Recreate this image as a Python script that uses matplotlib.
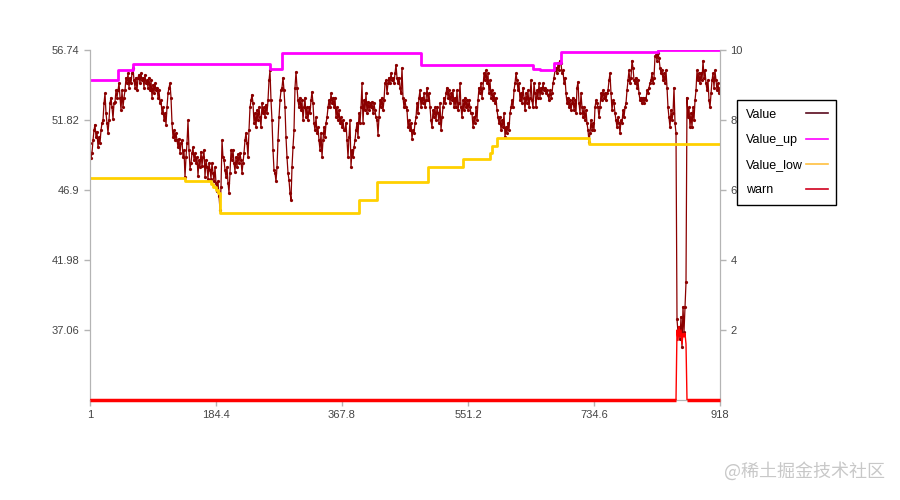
import numpy as np
import matplotlib.pyplot as plt

plt.rcParams['font.family'] = ['Liberation Sans', 'DejaVu Sans']

# Value, one reading per pixel column of the original chart
value = [
    50.2, 49.15, 49.5, 50.4, 51.1, 51.5, 50.6, 51.0, 49.9, 50.6,
    50.2, 51.1, 51.6, 51.8, 53.0, 53.7, 52.3, 51.6, 50.9, 51.8,
    53.0, 53.4, 52.7, 51.9, 53.0, 53.1, 53.9, 53.4, 53.9, 54.4,
    53.4, 52.5, 53.9, 52.7, 53.4, 53.9, 54.8, 54.4, 55.1, 54.1,
    54.8, 54.4, 55.1, 55.5, 54.6, 54.1, 54.8, 53.9, 54.8, 55.0,
    54.4, 55.1, 54.6, 54.8, 54.1, 55.0, 54.4, 54.6, 54.1, 54.8,
    53.9, 54.6, 53.4, 54.3, 53.7, 54.4, 53.9, 54.1, 53.4, 53.9,
    53.0, 53.2, 52.3, 52.7, 51.8, 52.3, 51.5, 52.7, 53.7, 54.1,
    54.4, 53.4, 51.6, 50.6, 51.1, 50.4, 50.9, 50.4, 49.9, 50.5,
    49.5, 50.2, 50.4, 49.2, 49.7, 47.8, 49.2, 50.2, 51.8, 49.7,
    48.4, 48.8, 49.5, 49.9, 49.0, 49.5, 48.8, 49.2, 47.9, 49.0,
    48.5, 49.6, 48.6, 49.2, 49.7, 47.8, 49.0, 48.5, 47.7, 48.8,
    48.3, 47.7, 48.8, 48.1, 47.5, 48.5, 47.4, 46.8,
    47.5, 46.5,
    45.5, 47.1, 50.4, 49.2, 49.0, 48.3, 47.8, 48.5, 47.4, 46.7,
    48.1, 49.7, 49.0, 49.7, 48.8, 48.2, 49.2, 48.5, 49.4, 48.8,
    49.5, 49.0, 48.1, 48.8, 49.5, 50.4, 50.9, 50.2, 49.2, 51.1,
    52.7, 53.2, 53.6, 53.0, 51.6, 52.3, 51.3, 52.5, 51.8, 52.7,
    52.0, 51.3, 53.0, 52.3, 52.7, 52.0, 52.9, 52.3, 53.2, 54.6,
    55.3, 53.2, 51.8, 49.7, 48.3, 48.1, 47.5, 48.5, 50.4, 52.0,
    53.2, 53.9, 54.1, 54.8, 53.9, 52.7, 50.6, 49.2, 48.1, 47.6,
    46.7, 46.2, 48.5, 49.9, 51.1, 54.1, 55.2, 54.1, 53.2, 52.7,
    53.4, 52.5, 53.2, 51.8, 52.7, 53.4, 52.0, 52.7, 51.8, 52.7,
    52.3, 53.2, 53.8, 53.0, 51.6, 51.1, 52.0, 50.9, 51.3, 50.4,
    49.7, 50.9, 49.2, 50.4, 51.3, 50.6, 51.6, 52.0, 52.7, 53.2,
    52.7, 53.7, 53.0, 53.4, 52.7, 53.4, 52.0, 52.7, 51.8, 52.5,
    51.6, 52.0, 51.3, 51.8, 51.1,
    51.1, 51.6, 50.4, 49.2, 50.6,
    51.8, 48.5, 49.7, 49.2, 49.9, 50.4, 51.1, 51.6, 50.6, 52.3,
    51.6, 52.7, 54.4, 51.6, 53.2, 52.5, 53.7, 52.3, 53.1, 52.5,
    53.0, 52.7, 53.1, 52.3, 53.0, 52.5, 52.0, 51.8, 50.8, 52.0,
    53.2, 52.7, 53.4, 52.5, 53.2, 54.4, 54.6, 53.7, 54.4, 54.8,
    54.4, 55.1, 54.6, 54.8, 54.4, 55.1, 55.7, 54.8, 54.4, 54.8,
    54.1, 53.7, 55.5, 53.4, 52.7, 53.2, 52.7, 52.5, 51.3, 51.8,
    51.1, 51.6, 50.5, 51.1, 50.9, 51.6, 52.0, 53.0, 52.3, 53.4,
    53.9, 52.7, 53.4, 53.0, 53.7, 52.7, 53.2, 54.1, 53.2, 53.7,
    52.7, 51.8, 51.3, 52.5, 52.0, 52.7, 51.8, 52.7, 52.3, 51.6,
    53.0, 51.1, 52.0, 52.7, 53.4, 53.0, 53.7, 54.1, 53.4, 53.9,
    53.0, 53.7, 53.2, 53.9, 52.7, 53.4, 52.7, 53.9, 52.5, 53.0,
    54.4, 52.7, 52.0, 53.2, 52.5, 53.4, 52.7, 53.2, 52.5, 53.2,
    52.7, 52.3,
    52.3, 51.3, 52.0, 51.6, 52.7, 51.8, 53.2, 54.1,
    53.7, 54.4, 53.4, 54.1, 55.1, 54.6, 55.3, 54.4, 55.1, 53.7,
    54.6, 53.4, 53.9, 53.2, 53.7, 53.0, 53.4, 52.5, 52.0, 51.6,
    52.0, 51.1, 51.8, 51.3, 52.3, 50.6, 51.3, 50.9, 51.6, 51.1,
    52.3, 52.7, 53.2, 52.7, 53.9, 54.4, 55.1, 54.6, 53.9, 54.4,
    53.2, 53.7, 53.0, 54.1, 53.4, 52.5, 53.7, 53.0, 53.9, 52.7,
    53.4, 54.6, 53.2, 52.7, 54.4, 53.7, 52.7, 53.9, 53.4, 54.4,
    53.4, 54.1, 53.7, 54.4, 53.9, 54.1, 53.7, 53.9, 53.6, 53.2,
    53.9, 53.4, 53.7, 54.4, 54.8, 55.3, 55.5, 55.1, 55.8, 55.3,
    56.0, 55.8, 55.1, 55.3, 54.4, 54.8, 53.7, 53.0, 53.4, 52.7,
    53.2, 52.5, 53.0, 53.4, 52.5, 53.2, 52.3, 54.1, 54.5, 53.0,
    52.3, 53.7, 52.7, 52.0, 52.7, 51.8, 52.5, 51.6, 51.1, 50.3,
    50.9, 51.8, 51.1, 51.6, 51.1, 52.7, 53.2, 53.0, 52.7,
    52.0,
    52.7, 53.7, 53.2, 53.9, 53.4, 53.7, 53.2, 53.7, 53.9, 54.6,
    55.1, 53.7, 52.5, 53.2, 53.0, 52.3, 51.8, 51.3, 52.0, 51.6,
    50.9, 51.8, 51.6, 52.5, 52.0, 52.7, 53.0, 53.9, 54.6, 55.3,
    54.4, 54.8, 56.0, 55.5, 54.6, 54.4, 54.8, 54.1, 54.6, 53.7,
    53.2, 53.4, 53.0, 53.4, 53.0, 53.4, 53.2, 53.9, 53.7, 54.1,
    54.4, 54.6, 55.1, 54.4, 54.8, 56.3, 56.4, 56.0, 56.5, 56.2,
    55.5, 55.1, 55.3, 54.6, 55.1, 54.4, 55.3, 54.1, 52.7, 52.0,
    51.3, 52.5, 51.8, 52.3, 54.1, 51.6, 50.9,
    37.8, 36.9, 37.3, 36.4, 38.0, 35.9, 38.7, 36.9, 38.7, 40.4,
    53.4, 52.0, 52.7, 51.3, 52.3, 51.3, 52.7, 51.8, 53.2, 53.9,
    55.3, 54.6, 55.1, 54.4, 55.1, 54.6, 56.0, 54.8, 55.3, 54.4,
    53.9, 54.6, 53.2, 52.7, 53.7, 54.6, 55.1, 54.1, 55.3, 54.6,
    53.9, 54.4, 53.7, 54.1,
]

# Value_up / Value_low: value changes (x where a new level starts)
up_x = [1, 42, 64, 263, 280, 483, 646, 656, 676, 687, 828, 918]
up_y = [54.63, 55.33, 55.76, 55.40, 56.51, 55.66, 55.40, 55.33, 55.83, 56.60, 56.74, 56.74]

low_x = [1, 139, 177, 180, 184, 187, 190, 393, 419, 493, 544, 583, 586, 593, 727, 918]
low_y = [47.76, 47.55, 47.32, 47.11, 46.9, 46.7, 45.28, 46.19, 47.48, 48.51, 49.06,
         49.5, 49.99, 50.53, 50.13, 50.13]

# warn (right axis): zero except the anomaly
warn_start = 587
warn_vals = [2.0, 1.7, 2.1, 1.8, 2.0, 1.6, 1.9, 1.8, 1.9, 1.6]

left_ticks = [37.06, 41.98, 46.9, 51.82, 56.74]
right_ticks = [2, 4, 6, 8, 10]
x_ticks = [1, 184.4, 367.8, 551.2, 734.6, 918]
x_labels = ['1', '184.4', '367.8', '551.2', '734.6', '918']

x = np.linspace(1, 918, len(value))
warn = np.zeros(len(value))
warn[warn_start:warn_start + len(warn_vals)] = warn_vals
warn_base = np.where(warn == 0, warn, np.nan)

fig = plt.figure(figsize=(9, 5), dpi=100)
ax = fig.add_axes([0.1, 0.2, 0.7, 0.7])
ax2 = ax.twinx()

l1, = ax.plot(x, value, color='#8b0000', lw=0.9, marker='o', ms=1.3, label='Value')
l2, = ax.step(up_x, up_y, where='post', color='#ff00ff', lw=2, label='Value_up')
l3, = ax.step(low_x, low_y, where='post', color='#ffd000', lw=2, label='Value_low')
l4, = ax2.plot(x, warn, color='#ff0000', lw=1.0, label='warn', zorder=3)
# warn baseline sits on the axis, drawn a bit heavier
ax2.plot(x, warn_base, color='#ff0000', lw=2.5, clip_on=False, zorder=3.1,
         solid_capstyle='butt')

ax.set_xlim(1, 918)
ax.set_ylim(32.14, 56.74)
ax2.set_ylim(0, 10)
ax.set_xticks(x_ticks)
ax.set_xticklabels(x_labels)
ax.set_yticks(left_ticks)
ax.set_yticklabels(['37.06', '41.98', '46.9', '51.82', '56.74'])
ax2.set_yticks(right_ticks)

for a in (ax, ax2):
    a.spines['top'].set_visible(False)
    for s in ('left', 'right', 'bottom'):
        a.spines[s].set_color('#b4b4b4')
    a.tick_params(colors='#b4b4b4', labelcolor='#444444', labelsize=8, length=4, width=1)

leg = ax2.legend([l1, l2, l3, l4], ['Value', 'Value_up', 'Value_low', 'warn'],
                 loc='upper left', bbox_to_anchor=(0.819, 0.8), bbox_transform=fig.transFigure,
                 borderaxespad=0, markerfirst=False, fancybox=False, edgecolor='black',
                 framealpha=1, fontsize=9, handlelength=1.7, handletextpad=0.3,
                 borderpad=0.7, labelspacing=1.05)
leg.get_frame().set_linewidth(1)
leg.set_zorder(5)
leg_colors = ['#5a0a1e', '#ff00ff', '#ffc040', '#d0001e']
for h, c in zip(leg.get_lines(), leg_colors):
    h.set_marker('')
    h.set_linewidth(1.2)
    h.set_color(c)

# texts left aligned, lines right aligned
fig.canvas.draw()
widths = [t.get_window_extent().width for t in leg.get_texts()]
items = leg._legend_handle_box.get_children()[0].get_children()
for box, w in zip(items, widths):
    box.sep += (max(widths) - w) * 72 / fig.dpi

fig.text(0.983, 0.057, '@稀土掘金技术社区', ha='right', va='center', fontsize=13,
         color='#c8c8c8', family=['Noto Sans CJK SC', 'DejaVu Sans'])

fig.savefig('out.png', dpi=100)
